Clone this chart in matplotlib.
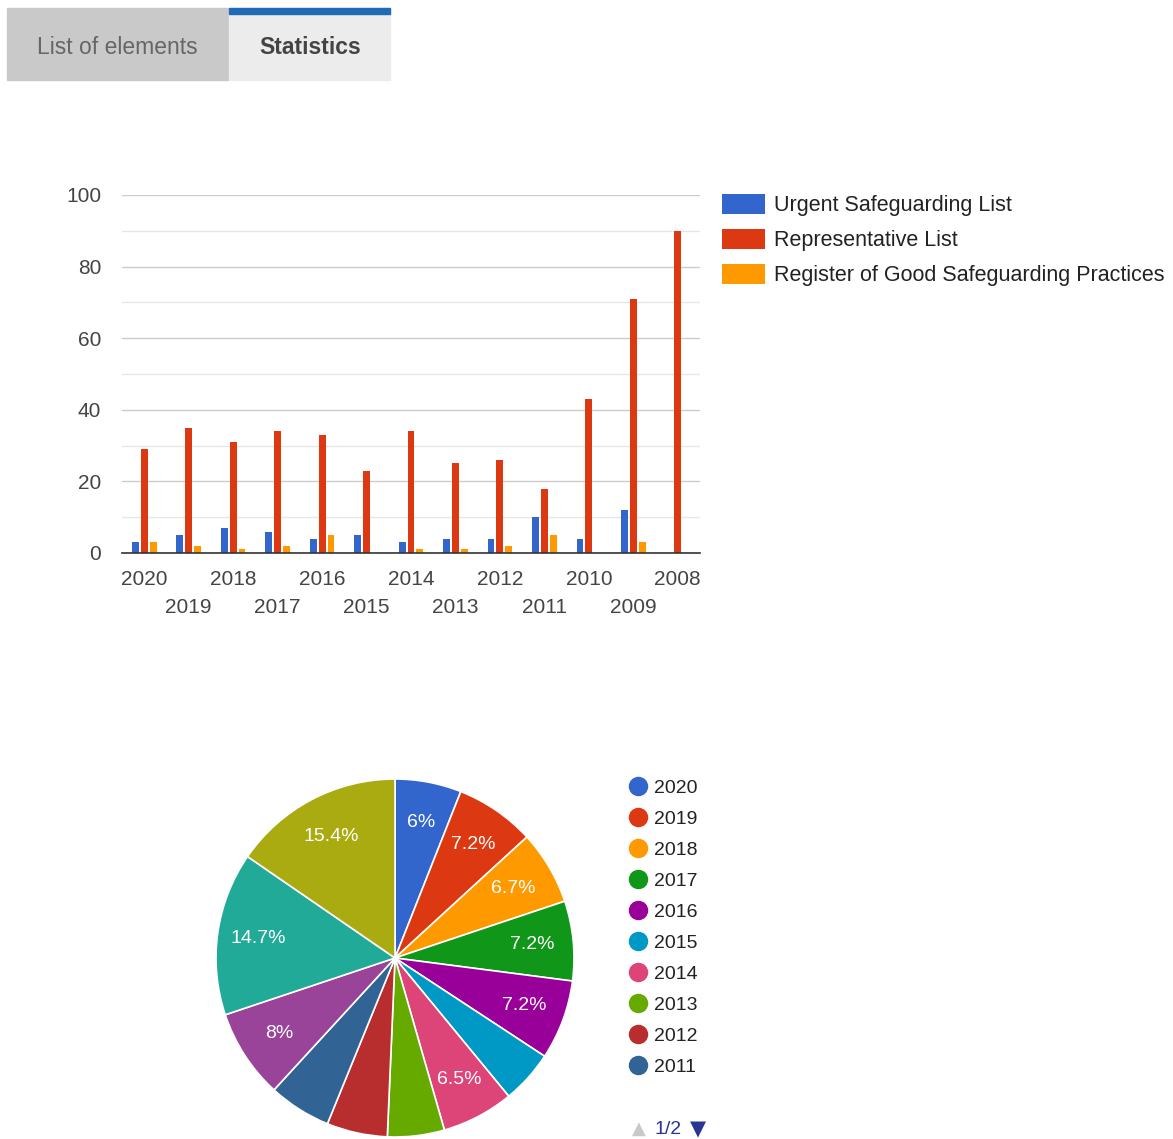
import matplotlib
matplotlib.use("Agg")
import matplotlib.pyplot as plt
from matplotlib.patches import Rectangle
from matplotlib.lines import Line2D

plt.rcParams['font.family'] = ['Liberation Sans', 'DejaVu Sans']

# data
years = ['2020', '2019', '2018', '2017', '2016', '2015', '2014',
         '2013', '2012', '2011', '2010', '2009', '2008']
urgent = [3, 5, 7, 6, 4, 5, 3, 4, 4, 10, 4, 12, 0]
representative = [29, 35, 31, 34, 33, 23, 34, 25, 26, 18, 43, 71, 90]
register = [3, 2, 1, 2, 5, 0, 1, 1, 2, 5, 0, 3, 0]
series_names = ['Urgent Safeguarding List', 'Representative List',
                'Register of Good Safeguarding Practices']
bar_colors = ['#3366cc', '#dc3912', '#ff9900']

pie_colors = ['#3366cc', '#dc3912', '#ff9900', '#109618', '#990099', '#0099c6',
              '#dd4477', '#66aa00', '#b82e2e', '#316395', '#994499', '#22aa99',
              '#aaaa11']
yearly_totals = [u + r + g for u, r, g in zip(urgent, representative, register)]

W, H = 1173, 1139
fig = plt.figure(figsize=(W / 100, H / 100), dpi=100)


def px_axes(x0, y0, x1, y1):
    # rectangle in pixel coords (top-left origin) -> figure fraction
    return [x0 / W, 1 - y1 / H, (x1 - x0) / W, (y1 - y0) / H]


# tabs at the top
bg = fig.add_axes([0, 0, 1, 1])
bg.set_xlim(0, W)
bg.set_ylim(H, 0)
bg.axis('off')
bg.add_patch(Rectangle((7, 8), 221, 72, color='#c9c9c9'))
bg.add_patch(Rectangle((229, 8), 161, 72, color='#ececec'))
bg.add_patch(Rectangle((229, 8), 161, 6, color='#1f6bb5'))
bg.text(117, 48, 'List of elements', ha='center', va='center', fontsize=16.5,
        color='#666666')
bg.text(310, 48, 'Statistics', ha='center', va='center', fontsize=16.5,
        color='#444444', fontweight='bold')

# bar chart
ax = fig.add_axes(px_axes(122, 195, 700, 553))
x = list(range(len(years)))
bw = 0.155
for i, (vals, name, col) in enumerate(zip([urgent, representative, register],
                                           series_names, bar_colors)):
    ax.bar([p + (i - 1) * 0.2 for p in x], vals, width=bw, color=col, label=name,
           zorder=3)
ax.set_xlim(-0.5, len(years) - 0.5)
ax.set_ylim(0, 100)
ax.set_yticks(range(0, 101, 20))
ax.set_yticks(range(10, 100, 20), minor=True)
ax.grid(axis='y', which='major', color='#cccccc', linewidth=1, zorder=0)
ax.grid(axis='y', which='minor', color='#e6e6e6', linewidth=1, zorder=0)
ax.set_xticks(x)
ax.set_xticklabels([y if i % 2 == 0 else '\n' + y for i, y in enumerate(years)],
                   linespacing=1.6)
ax.tick_params(axis='both', which='both', length=0, labelsize=15,
               labelcolor='#444444')
ax.tick_params(axis='y', pad=15)
ax.tick_params(axis='x', pad=12)
for s in ['top', 'right', 'left']:
    ax.spines[s].set_visible(False)
ax.spines['bottom'].set_color('#333333')
ax.spines['bottom'].set_linewidth(1.2)
ax.spines['bottom'].set_zorder(4)
ax.legend(loc='upper left', bbox_to_anchor=(722 / W, 1 - 194 / H),
          bbox_transform=fig.transFigure, frameon=False, fontsize=15.5,
          handlelength=2.0, handleheight=1.03, handletextpad=0.42,
          labelspacing=0.6, borderpad=0, borderaxespad=0, labelcolor='#222222')

# pie chart
pax = fig.add_axes(px_axes(216, 779, 574, 1137))


def pct_label(p):
    if p < 5.9:
        return ''
    return f'{p:.1f}'.rstrip('0').rstrip('.') + '%'


wedges, texts, autotexts = pax.pie(
    yearly_totals, colors=pie_colors, startangle=90, counterclock=False,
    autopct=pct_label, pctdistance=0.77, radius=1,
    wedgeprops=dict(edgecolor='white', linewidth=1.2))
for t in autotexts:
    t.set_color('white')
    t.set_fontsize(14)
pax.set_xlim(-1, 1)
pax.set_ylim(-1, 1)
pax.set_aspect('equal')
pax.axis('off')

# pie legend (first page: 2020-2011)
handles = [Line2D([], [], marker='o', linestyle='', markersize=13,
                  markerfacecolor=c, markeredgecolor=c)
           for c in pie_colors[:10]]
pax.legend(handles, years[:10], loc='upper left',
           bbox_to_anchor=(628 / W, 1 - 779 / H), bbox_transform=fig.transFigure,
           frameon=False, fontsize=14, handlelength=1.0, handletextpad=0.35,
           labelspacing=0.69, borderpad=0, borderaxespad=0, labelcolor='#222222')
bg.text(639, 1129, '▲', ha='center', va='center', fontsize=13, color='#c8c8c8',
        family='DejaVu Sans')
bg.text(668, 1129, '1/2', ha='center', va='center', fontsize=14, color='#283593')
bg.text(698, 1129, '▼', ha='center', va='center', fontsize=15, color='#283593',
        family='DejaVu Sans')

fig.savefig('out.png', dpi=100, facecolor='white')
